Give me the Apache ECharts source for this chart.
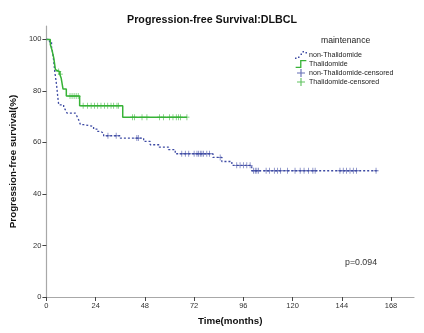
<!DOCTYPE html>
<html><head><meta charset="utf-8">
<script src="https://cdn.jsdelivr.net/npm/echarts@6/dist/echarts.min.js"></script>
<style>html,body{margin:0;padding:0;background:#fff}#c{width:424px;height:333px}</style>
</head><body><div id="c"></div>
<script>
// Kaplan-Meier step data (time in months, survival %)
const nonThalT = [0,1.5,2.5,3,3.5,4,4.5,5,5.5,6,8.4,9.2,10,14.1,15,15.7,16.6,18.2,23,24.7,26.3,27.9,36,47.4,50.6,55,59.5,62.8,81.2,85.5,90.4,100.1,161];
const nonThalS = [100,99,97,95,92,88,85,82,78,74.6,73.7,72.7,71.4,70.7,70,68.8,66.9,66.2,65.2,64.3,63.6,62.6,61.7,60.4,59.1,58.2,57.2,55.6,54.2,52.6,51.1,49,49];
const thalT = [0,1.9,2.7,3.6,4.4,5.2,6.5,7.2,8.1,9.7,16.2,37.2,68.5];
const thalS = [100,98,95.9,92.7,88.2,87.5,86.5,85,80.7,78,74.2,69.8,69.8];
// censored observations
const nonThalCensT = [30,34,44.1,44.8,66,67.7,69.4,72,73.4,74.2,75,75.8,76.6,78.2,79.5,84.7,92.8,94.4,96,97.7,99.3,101,101.8,102.6,103.4,107.1,108.7,111.1,112.6,114.2,117.5,121.2,123.7,125.6,127.7,129.9,131,143.1,144.7,146.3,148,149.6,151.2,160.7];
const nonThalCensS = [62.6,62.6,61.7,61.7,55.6,55.6,55.6,55.6,55.6,55.6,55.6,55.6,55.6,55.6,55.6,54.2,51.1,51.1,51.1,51.1,51.1,49,49,49,49,49,49,49,49,49,49,49,49,49,49,49,49,49,49,49,49,49,49,49];
const thalCensT = [6,6.8,11.5,12.5,13.5,14.5,15.5,17.9,20.1,21.8,23.4,25,26.6,28.3,29.9,31.5,32.8,34.4,35.2,42,43,46.6,49,55.2,57.1,60,61.7,63.3,64.4,65.3,68.5];
const thalCensS = [87.5,86.5,78,78,78,78,78,74.2,74.2,74.2,74.2,74.2,74.2,74.2,74.2,74.2,74.2,74.2,74.2,69.8,69.8,69.8,69.8,69.8,69.8,69.8,69.8,69.8,69.8,69.8,69.8];
const xTicks = [0,24,48,72,96,120,144,168];
const yTicks = [0,20,40,60,80,100];
const seriesNames = ['non-Thalidomide','Thalidomide','non-Thalidomide-censored','Thalidomide-censored'];

const zip = (a,b) => a.map((v,i)=>[v,b[i]]);
const BLUE = '#3d4aa3', GREEN = '#37b337';
const PLUS = 'path://M4.3,0h1.4v4.3h4.3v1.4h-4.3v4.3h-1.4v-4.3h-4.3v-1.4h4.3z';
const STEP_ICON = 'path://M0,8.5h5v-7.5h7v1.5h-5.5v7.5h-6.5z';
const DOT_ICON = 'path://M0,8h1.5v1.5h-1.5zM3,7h1.5v1.5h-1.5zM5.5,4h1.5v1.5h-1.5zM7.5,1.5h1.5v1.5h-1.5zM10.5,2.5h1.5v1.5h-1.5z';
const FONT = 'Liberation Sans, Arial, sans-serif';

const chart = echarts.init(document.getElementById('c'), null, {renderer:'canvas'});
chart.setOption({
  animation:false,
  backgroundColor:'#fff',
  title:{text:'Progression-free Survival:DLBCL', left:'center', top:10,
    textStyle:{fontFamily:FONT, fontSize:10.7, fontWeight:'bold', color:'#111'}},
  legend:{orient:'vertical', left:295, top:51, padding:0, itemWidth:12, itemHeight:8, itemGap:1,
    textStyle:{fontFamily:FONT, fontSize:7.1, color:'#222', padding:[0,0,0,-3]},
    data:[
      {name:seriesNames[0], icon:DOT_ICON},
      {name:seriesNames[1], icon:STEP_ICON},
      {name:seriesNames[2]},
      {name:seriesNames[3]}
    ]},
  grid:{left:46, right:10, top:26, bottom:36},
  xAxis:{type:'value', min:0, max:179.2,
    name:'Time(months)', nameLocation:'middle', nameGap:19,
    nameTextStyle:{fontFamily:FONT, fontSize:9.8, fontWeight:'bold', color:'#111'},
    axisLine:{lineStyle:{color:'#a8a8a8', width:1.2}},
    axisTick:{show:true, length:4, customValues:xTicks, lineStyle:{color:'#444'}},
    axisLabel:{customValues:xTicks, fontFamily:'Liberation Sans Narrow, '+FONT, fontSize:7.5, color:'#333', margin:5},
    splitLine:{show:false}},
  yAxis:{type:'value', min:0, max:105.2,
    name:'Progression-free survival(%)', nameLocation:'middle', nameGap:23,
    nameTextStyle:{fontFamily:FONT, fontSize:9.8, fontWeight:'bold', color:'#111'},
    axisLine:{show:true, lineStyle:{color:'#a8a8a8', width:1.2}},
    axisTick:{show:true, length:4, customValues:yTicks, lineStyle:{color:'#444'}},
    axisLabel:{customValues:yTicks, fontFamily:'Liberation Sans Narrow, '+FONT, fontSize:7.5, color:'#333', margin:5},
    splitLine:{show:false}},
  graphic:[
    {type:'text', left:321, top:36, style:{text:'maintenance', font:'8.6px '+FONT, fill:'#222'}},
    {type:'text', left:345, top:258, style:{text:'p=0.094', font:'8.8px '+FONT, fill:'#333'}}
  ],
  series:[
    {name:seriesNames[0], type:'line', step:'end', showSymbol:false, symbol:'none',
      data:zip(nonThalT,nonThalS), lineStyle:{color:BLUE, width:1.3, type:[2,2]}, itemStyle:{color:BLUE}, z:3},
    {name:seriesNames[1], type:'line', step:'end', showSymbol:false, symbol:'none',
      data:zip(thalT,thalS), lineStyle:{color:GREEN, width:1.5}, itemStyle:{color:GREEN}, z:4},
    {name:seriesNames[2], type:'scatter', symbol:PLUS, symbolSize:[5,6],
      data:zip(nonThalCensT,nonThalCensS), itemStyle:{color:BLUE}, z:5},
    {name:seriesNames[3], type:'scatter', symbol:PLUS, symbolSize:[5,6],
      data:zip(thalCensT,thalCensS), itemStyle:{color:GREEN}, z:6}
  ]
});
</script></body></html>
